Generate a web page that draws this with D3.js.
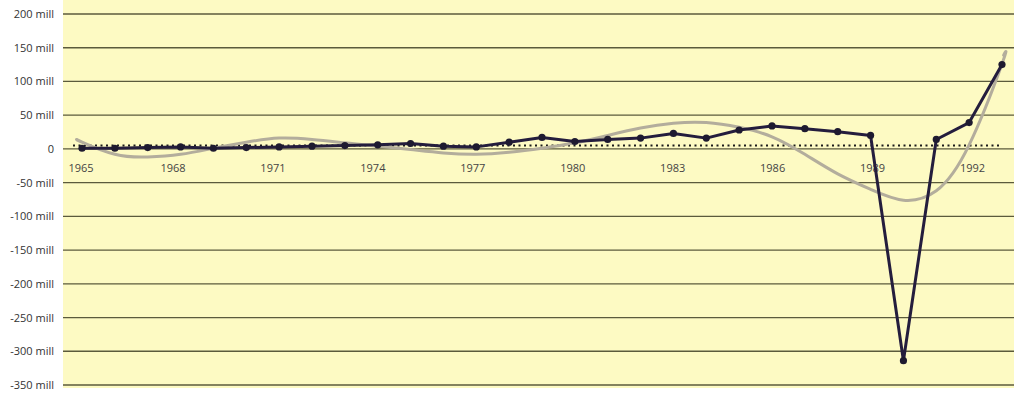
<!DOCTYPE html>
<html>
<head>
<meta charset="utf-8">
<script src="https://cdn.jsdelivr.net/npm/d3@7"></script>
<style>
  html, body { margin: 0; padding: 0; background: #ffffff; }
  svg { display: block; font-family: "Open Sans", "DejaVu Sans", sans-serif; }
</style>
</head>
<body>
<svg id="chart" width="1014" height="393"></svg>
<script>
// Annual values, in millions
const years = [1965, 1966, 1967, 1968, 1969, 1970, 1971, 1972, 1973, 1974,
               1975, 1976, 1977, 1978, 1979, 1980, 1981, 1982, 1983, 1984,
               1985, 1986, 1987, 1988, 1989, 1990, 1991, 1992, 1993];
const values = [1, 1, 2, 3, 1, 2, 3, 4, 5, 6,
                8, 4, 3, 10, 17, 11, 14, 16, 23, 16,
                28, 34, 30, 25.5, 20, -314, 14, 39, 125];

// Smoothed trend curve, sampled as [year, value]
const trendYears  = [1964.85, 1965, 1966, 1967, 1968, 1969, 1970, 1971, 1972, 1973,
                     1974, 1975, 1976, 1977, 1978, 1979, 1980, 1981, 1982, 1983,
                     1984, 1985, 1986, 1987, 1988, 1989, 1990, 1991, 1992, 1993,
                     1993.05];
const trendValues = [14, 10, -8, -12, -8, 1, 10, 16, 14, 9,
                     4, -1, -6, -8, -5, 1, 9, 20, 31, 38,
                     39, 32, 18, -8, -37, -60, -76, -62, 6, 126,
                     139];

// Axis ticks
const yTicks = [200, 150, 100, 50, 0, -50, -100, -150, -200, -250, -300, -350];
const yTickLabels = ["200 mill", "150 mill", "100 mill", "50 mill", "0", "-50 mill",
                     "-100 mill", "-150 mill", "-200 mill", "-250 mill", "-300 mill", "-350 mill"];
const xTickYears = [1965, 1968, 1971, 1974, 1977, 1980, 1983, 1986, 1989, 1992];

const W = 1014, H = 393;
const plotLeft = 63, plotRight = 1014;
const svg = d3.select("#chart");

const x = d3.scaleLinear().domain([1965, 1993]).range([82, 1002]);
const xLabel = d3.scaleLinear().domain([1968, 1992]).range([173, 972.5]);
const y = d3.scaleLinear().domain([-350, 200]).range([385, 14]);

// Background panel
svg.append("rect")
  .attr("x", plotLeft).attr("y", 0)
  .attr("width", plotRight - plotLeft).attr("height", 388)
  .attr("fill", "#fdfac3");

// Horizontal grid lines
svg.append("g").selectAll("line")
  .data(yTicks)
  .join("line")
  .attr("x1", plotLeft).attr("x2", plotRight)
  .attr("y1", d => y(d)).attr("y2", d => y(d))
  .attr("stroke", "#5b5a3c")
  .attr("stroke-width", 1.3);

// Y axis labels
const yAxis = d3.axisLeft(y).tickValues(yTicks)
  .tickFormat((d, i) => yTickLabels[i]).tickSize(0).tickPadding(0);
const gy = svg.append("g").attr("transform", "translate(54,0)").call(yAxis);
gy.select(".domain").remove();
gy.selectAll("text")
  .attr("font-size", 11)
  .attr("fill", "#333333")
  .attr("font-family", "\"Open Sans\", \"DejaVu Sans\", sans-serif");

// X axis labels
svg.append("g").selectAll("text")
  .data(xTickYears)
  .join("text")
  .attr("x", d => Math.max(xLabel(d), plotLeft + 18))
  .attr("y", 172)
  .attr("text-anchor", "middle")
  .attr("font-size", 11)
  .attr("fill", "#444444")
  .text(d => d);

// Mean reference line (dotted)
const mean = d3.mean(values);
svg.append("line")
  .attr("x1", x(1965) - 9).attr("x2", x(1993))
  .attr("y1", y(mean)).attr("y2", y(mean))
  .attr("stroke", "#1a1a1a")
  .attr("stroke-width", 2)
  .attr("stroke-dasharray", "2,3.5");

// Trend curve
const trend = trendYears.map((t, i) => [t, trendValues[i]]);
svg.append("path")
  .datum(trend)
  .attr("fill", "none")
  .attr("stroke", "#b3ad9c")
  .attr("stroke-width", 3)
  .attr("stroke-linecap", "round")
  .attr("d", d3.line().x(d => x(d[0])).y(d => y(d[1])).curve(d3.curveNatural));

// Data series line and markers
const series = years.map((t, i) => [t, values[i]]);
svg.append("path")
  .datum(series)
  .attr("fill", "none")
  .attr("stroke", "#241d3d")
  .attr("stroke-width", 3)
  .attr("stroke-linejoin", "round")
  .attr("d", d3.line().x(d => x(d[0])).y(d => y(d[1])));

svg.append("g").selectAll("circle")
  .data(series)
  .join("circle")
  .attr("cx", d => x(d[0]))
  .attr("cy", d => y(d[1]))
  .attr("r", 3.6)
  .attr("fill", "#1e1a30");
</script>
</body>
</html>
